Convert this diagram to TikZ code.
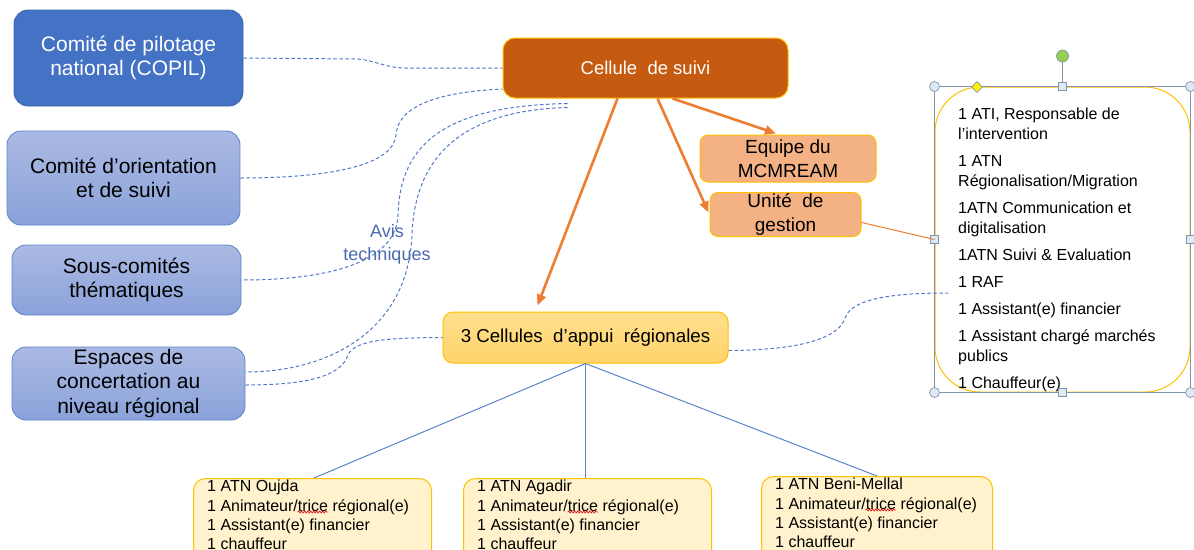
\documentclass[tikz,border=0pt]{standalone}
\usepackage{fontspec}
\setmainfont{Liberation Sans}
\usetikzlibrary{arrows.meta,calc,shapes.geometric,decorations.pathmorphing}
\definecolor{copilfill}{HTML}{4472C4}
\definecolor{copilline}{HTML}{3A64B0}
\definecolor{lighttop}{HTML}{ABBAE3}
\definecolor{lightbot}{HTML}{8AA2DA}
\definecolor{lightline}{HTML}{5F83CC}
\definecolor{gold}{HTML}{FFC000}
\definecolor{cellfill}{HTML}{C55A11}
\definecolor{peach}{HTML}{F4B183}
\definecolor{appuitop}{HTML}{FFE08E}
\definecolor{appuibot}{HTML}{FFD36A}
\definecolor{cream}{HTML}{FFF2CC}
\definecolor{linkblue}{HTML}{4F79C6}
\definecolor{treeblue}{HTML}{5B84CC}
\definecolor{orangeline}{HTML}{ED7D31}
\definecolor{avisblue}{HTML}{4A68AE}
\definecolor{handleline}{HTML}{8494AA}
\definecolor{handlefill}{HTML}{DDEAF5}
\definecolor{handlegreen}{HTML}{92D050}
\definecolor{spellred}{HTML}{E02020}
\newlength\wavestart
\newlength\wavelen
\begin{document}
\begingroup
\fontsize{16}{19.3}\selectfont
\global\setbox1=\hbox{1 Animateur/}%
\global\setbox2=\hbox{trice}%
\endgroup
\setlength\wavestart{\wd1}%
\setlength\wavelen{\wd2}%
\begin{tikzpicture}[x=1pt,y=-1pt,
  lbox/.style={draw, rounded corners=14, line width=0.8pt, align=center, inner sep=0pt, font=\fontsize{21}{24.5}\selectfont},
  darkbox/.style={lbox, fill=copilfill, draw=copilline, text=white},
  lightbox/.style={lbox, top color=lighttop, bottom color=lightbot, draw=lightline},
  cellbox/.style={draw=gold, fill=cellfill, rounded corners=12, line width=1pt, text=white, font=\fontsize{18.5}{22}\selectfont, inner sep=0pt},
  peachbox/.style={draw=gold, fill=peach, rounded corners=8, line width=1pt, align=center, inner sep=0pt, font=\fontsize{19}{24}\selectfont},
  appuibox/.style={draw=gold, top color=appuitop, bottom color=appuibot, rounded corners=10, line width=1pt, inner sep=0pt, font=\fontsize{18.7}{22}\selectfont},
  regbox/.style={draw=gold, fill=cream, rounded corners=12, line width=1pt, inner sep=0pt, anchor=north west},
  regtext/.style={anchor=north west, align=left, inner sep=0pt, font=\fontsize{16}{19.3}\selectfont},
  stafftext/.style={anchor=north west, align=left, inner sep=0pt, font=\fontsize{16}{20}\selectfont},
  avis/.style={align=center, inner sep=0pt, text=avisblue, font=\fontsize{18}{23}\selectfont},
  dashlink/.style={draw=linkblue, line width=1pt, dash pattern=on 3.5pt off 2.5pt},
  treeline/.style={draw=treeblue, line width=1pt},
  orarrow/.style={draw=orangeline, line width=2.6pt, -{Triangle[length=11pt,width=9pt]}},
  handlecirc/.style={circle, draw=handleline, fill=handlefill, minimum size=10pt, inner sep=0pt, line width=0.7pt},
  handlesq/.style={rectangle, draw=handleline, fill=handlefill, minimum size=8pt, inner sep=0pt, line width=0.7pt},
  spellwave/.style={draw=spellred, line width=0.8pt, decorate, decoration={snake, amplitude=0.9pt, segment length=3pt}},
]
\useasboundingbox (0,0) rectangle (1194,549);

% left column
\node[darkbox, minimum width=229, minimum height=96] (copil) at (128.5,58) {Comité de pilotage\\national (COPIL)};
\node[lightbox, minimum width=233, minimum height=94] (orient) at (123.5,178) {Comité d’orientation\\et de suivi};
\node[lightbox, minimum width=229, minimum height=70] (sous) at (126.5,280) {Sous-comités\\thématiques};
\node[lightbox, minimum width=233, minimum height=73] (esp) at (128.5,383.5) {Espaces de\\concertation au\\niveau régional};

% centre
\node[cellbox, minimum width=285, minimum height=60] (cel) at (645.5,68) {Cellule~~de suivi};
\node[peachbox, minimum width=176, minimum height=47] (equipe) at (788,158.5) {Equipe du\\MCMREAM};
\node[peachbox, minimum width=151, minimum height=44] (unite) at (785.5,214.5) {Unité~~de\\gestion};
\node[appuibox, minimum width=285, minimum height=51] (appui) at (585.5,337.5) {3 Cellules~~d’appui~~régionales};
\node[avis] (avisnote) at (387,244.5) {Avis\\techniques};

% right staff box
\node[draw=gold, fill=white, rounded corners=45, line width=1pt, minimum width=255, minimum height=305, inner sep=0pt] (staff) at (1062.5,239.5) {};
\node[stafftext] (stafflist) at (958,108) {1 ATI, Responsable de\\l’intervention\\[7pt]
1 ATN\\Régionalisation/Migration\\[7pt]
1ATN Communication et\\digitalisation\\[7pt]
1ATN Suivi \& Evaluation\\[7pt]
1 RAF\\[7pt]
1 Assistant(e) financier\\[7pt]
1 Assistant chargé marchés\\publics\\[7pt]
1 Chauffeur(e)};
\coordinate (rafgap) at (948,293);

% selection frame and handles
\draw[handleline, line width=0.8pt] (staff.north west) rectangle (staff.south east);
\node[handlecirc, fill=handlegreen, minimum size=12pt] (rot) at (1062.5,56) {};
\draw[handleline, line width=0.8pt] (rot.south) -- (staff.north);
\node[handlecirc] (h1) at (staff.north west) {};
\node[handlecirc] (h2) at (staff.north east) {};
\node[handlecirc] (h3) at (staff.south west) {};
\node[handlecirc] (h4) at (staff.south east) {};
\node[handlesq] (h5) at (staff.north) {};
\node[handlesq] (h6) at (staff.south) {};
\node[handlesq] (h7) at (staff.west) {};
\node[handlesq] (h8) at (staff.east) {};
\node[diamond, draw=handleline, fill=yellow, minimum size=11pt, inner sep=0pt, line width=0.6pt] (h9) at (977,87) {};

% bottom regional boxes
\node[regbox, minimum width=238, minimum height=100] (oujda) at (193,478) {};
\node[regtext] (oujdat) at ([xshift=14pt,yshift=-2pt]oujda.north west) {1 ATN Oujda\\1 Animateur/trice régional(e)\\1 Assistant(e) financier\\1 chauffeur};
\node[regbox, minimum width=248, minimum height=100] (agadir) at (463,478) {};
\node[regtext] (agadirt) at ([xshift=14pt,yshift=-2pt]agadir.north west) {1 ATN Agadir\\1 Animateur/trice régional(e)\\1 Assistant(e) financier\\1 chauffeur};
\node[regbox, minimum width=231, minimum height=100] (beni) at (761,476) {};
\node[regtext] (benit) at ([xshift=14pt,yshift=-2pt]beni.north west) {1 ATN Beni-Mellal\\1 Animateur/trice régional(e)\\1 Assistant(e) financier\\1 chauffeur};
\draw[spellwave] ([xshift=\wavestart,yshift=-32pt]oujdat.north west) -- ++(\wavelen,0);
\draw[spellwave] ([xshift=\wavestart,yshift=-32pt]agadirt.north west) -- ++(\wavelen,0);
\draw[spellwave] ([xshift=\wavestart,yshift=-32pt]benit.north west) -- ++(\wavelen,0);

% tree lines
\draw[treeline] (appui.south) -- ([xshift=121pt]oujda.north west);
\draw[treeline] (appui.south) -- ([xshift=122.5pt]agadir.north west);
\draw[treeline] (appui.south) -- ([xshift=116pt]beni.north west);

% orange arrows
\draw[orarrow] ([xshift=-28pt]cel.south) -- ([xshift=-48pt,yshift=6pt]appui.north);
\draw[orarrow] ([xshift=12pt]cel.south) -- ([xshift=-1pt,yshift=2pt]unite.west);
\draw[orarrow] ([xshift=27pt]cel.south) -- ([xshift=-12pt,yshift=1pt]equipe.north);
\draw[orangeline, line width=1pt] ([yshift=-8pt]unite.east) -- (staff.west);

% dashed links
\draw[dashlink] (copil.east) -- (355,59) .. controls (372,59) and (385,68) .. (405,68) -- (cel.west);
\draw[dashlink] (orient.east) .. controls (320,178) and (393,168) .. (396,135) .. controls (398,105) and (440,92) .. ([yshift=-21pt]cel.west);
\draw[dashlink] ([xshift=-78pt,yshift=-5pt]cel.south) .. controls (450,106) and (400,140) .. (398,215) .. controls (396,262) and (330,280) .. (sous.east);
\draw[dashlink] ([xshift=-78pt,yshift=-9pt]cel.south) .. controls (470,110) and (415,150) .. (412,235) .. controls (408,330) and (330,372) .. ([yshift=11.5pt]esp.east);
\draw[dashlink] ([yshift=-1.5pt]esp.east) .. controls (320,385) and (342,372) .. (348,355) .. controls (355,338) and (400,338) .. (appui.west);
\draw[dashlink] ([yshift=-13pt]appui.east) .. controls (810,350) and (840,335) .. (845,318) .. controls (852,297) and (900,293) .. (rafgap);
\end{tikzpicture}
\end{document}
